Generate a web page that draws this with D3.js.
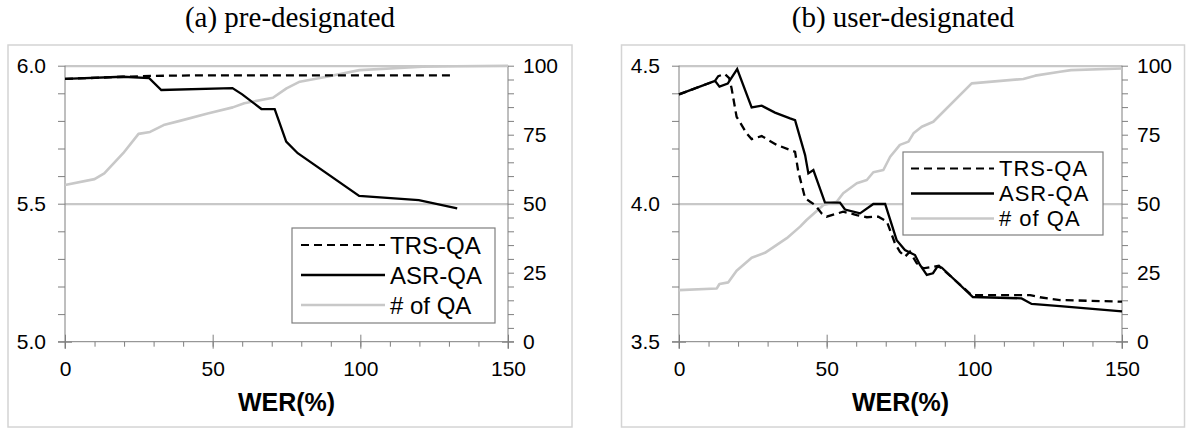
<!DOCTYPE html>
<html>
<head>
<meta charset="utf-8">
<script src="https://cdnjs.cloudflare.com/ajax/libs/d3/7.8.5/d3.min.js"></script>
<style>
  body { margin: 0; background: #fff; }
  svg text { font-family: "Liberation Sans", Arial, sans-serif; fill: #000; }
  .title { font-family: "Liberation Serif", "Times New Roman", serif; }
</style>
</head>
<body>
<script>
// panel (a) pre-designated
const trsA_x = [0, 20, 29, 45, 60, 100, 132];
const trsA_y = [5.952, 5.960, 5.963, 5.965, 5.965, 5.965, 5.965];
const asrA_x = [0, 19.6, 28.5, 32.6, 56.7, 60, 66.5, 71, 74.9, 78.8, 99.6, 119.8, 132.8];
const asrA_y = [5.952, 5.960, 5.955, 5.912, 5.919, 5.896, 5.843, 5.843, 5.725, 5.683, 5.528, 5.513, 5.483];
const qaA_x = [0, 10, 13.3, 19.7, 24.9, 28.8, 33.4, 39.2, 48.3, 56.8, 60.7, 70.4, 75, 79.5, 88.6, 99.7, 121, 132, 150];
const qaA_y = [56.8, 58.9, 61, 68.3, 75.3, 76, 78.5, 80.1, 82.7, 84.9, 86.4, 88.4, 91.8, 94.2, 96, 98.4, 99.6, 99.8, 100];

// panel (b) user-designated
const trsB_x = [0, 12.2, 13.3, 15.5, 17, 17.8, 19.5, 22.9, 24.6, 28, 33.1, 39.3, 40.4, 42.7, 44.4, 46.1, 48.3, 50, 55.6, 60.2, 63.6, 67.5, 70.4, 73.1, 74.8, 76.5, 78.2, 80.5, 82.7, 85, 88, 99.1, 118.9, 122.2, 129, 150];
const trsB_y = [4.396, 4.445, 4.462, 4.470, 4.455, 4.418, 4.315, 4.255, 4.234, 4.245, 4.213, 4.188, 4.116, 4.02, 4.007, 3.995, 3.965, 3.953, 3.971, 3.959, 3.951, 3.953, 3.935, 3.857, 3.826, 3.808, 3.826, 3.784, 3.766, 3.770, 3.775, 3.669, 3.669, 3.661, 3.651, 3.645];
const asrB_x = [0, 12.2, 13.7, 16.5, 19.7, 24.6, 28, 32.5, 37.6, 39.3, 42.7, 43.8, 45.5, 49.4, 54.5, 56.2, 61.3, 65.8, 69.8, 73.7, 76.5, 79.9, 81.6, 83.9, 86, 87.5, 89, 99.5, 116, 119.4, 129, 150];
const asrB_y = [4.396, 4.445, 4.424, 4.435, 4.488, 4.349, 4.355, 4.330, 4.309, 4.303, 4.176, 4.110, 4.122, 4.005, 4.004, 3.979, 3.965, 3.999, 3.999, 3.868, 3.832, 3.814, 3.778, 3.742, 3.748, 3.772, 3.768, 3.662, 3.657, 3.637, 3.629, 3.610];
const qaB_x = [0, 12.8, 13.7, 16.7, 19.5, 24.6, 29.1, 36.5, 41, 43.2, 48.9, 53.4, 55.6, 60.2, 63.6, 65.8, 69.2, 71.5, 74.8, 77.7, 79.4, 82.2, 86.1, 99.1, 116.6, 120.6, 129, 132.7, 150];
const qaB_y = [18.7, 19.3, 20.9, 21.5, 25.7, 30.4, 32.2, 37.5, 41.7, 44.1, 49.5, 50.7, 53.8, 57.4, 58.6, 61.4, 62.2, 67, 71.3, 72.5, 75.5, 77.9, 79.7, 93.6, 95.2, 96.4, 97.8, 98.4, 99];

const xTicks = [0, 50, 100, 150];
const qaTicks = [0, 25, 50, 75, 100];
const seriesNames = ["TRS-QA", "ASR-QA", "# of QA"];

const W = 1188, H = 429;
const svg = d3.select("body").append("svg").attr("width", W).attr("height", H);

const zip = (xs, ys) => xs.map((x, i) => [x, ys[i]]);
const axisColor = "#7f7f7f";
const gridColor = "#c8c8c8";

function drawPanel(p) {
  const g = svg.append("g");

  // outer frame
  g.append("rect")
    .attr("x", p.box[0]).attr("y", p.box[1])
    .attr("width", p.box[2]).attr("height", p.box[3])
    .attr("fill", "none").attr("stroke", "#d4d4d4").attr("stroke-width", 1.5);

  g.append("text")
    .attr("class", "title")
    .attr("x", p.box[0] + p.box[2] / 2)
    .attr("y", 27)
    .attr("text-anchor", "middle")
    .style("font-size", "29px")
    .text(p.title);

  const x = d3.scaleLinear().domain([0, 150]).range([p.left, p.right]);
  const y = d3.scaleLinear().domain(p.yDomain).range([p.bottom, p.top]);
  const y2 = d3.scaleLinear().domain([0, 100]).range([p.bottom, p.top]);
  const w = p.right - p.left;

  const axes = g.append("g");
  const minorY = d3.range(p.yDomain[0], p.yDomain[1] + 0.001, 0.1);
  const minorQ = d3.range(0, 101, 5);
  const minorX = d3.range(0, 151, 10);

  // left axis
  axes.append("g")
    .attr("transform", `translate(${p.left},0)`)
    .call(d3.axisLeft(y).tickValues(minorY).tickSize(7).tickFormat(""))
    .call(a => a.select(".domain").remove());
  axes.append("g")
    .attr("transform", `translate(${p.left},0)`)
    .call(d3.axisLeft(y).tickValues(p.yMajor).tickSizeInner(-7).tickSizeOuter(0).tickFormat(""))
    .call(a => a.select(".domain").remove());
  axes.append("g")
    .attr("transform", `translate(${p.left},0)`)
    .call(d3.axisLeft(y).tickValues(p.yMajor).tickSize(0).tickPadding(p.yLabelPad).tickFormat(d3.format(".1f")))
    .call(a => a.select(".domain").remove())
    .selectAll("text").style("font-size", p.tickFont + "px");

  // right axis
  axes.append("g")
    .attr("transform", `translate(${p.right},0)`)
    .call(d3.axisRight(y2).tickValues(minorQ).tickSize(6).tickFormat(""))
    .call(a => a.select(".domain").remove());
  axes.append("g")
    .attr("transform", `translate(${p.right},0)`)
    .call(d3.axisRight(y2).tickValues([0, 50, 100]).tickSize(-6).tickFormat(""))
    .call(a => a.select(".domain").remove());
  axes.append("g")
    .attr("transform", `translate(${p.right},0)`)
    .call(d3.axisRight(y2).tickValues(qaTicks).tickSize(0).tickPadding(15))
    .call(a => a.select(".domain").remove())
    .selectAll("text").style("font-size", p.tickFont + "px");

  // bottom axis
  axes.append("g")
    .attr("transform", `translate(0,${p.bottom})`)
    .call(d3.axisBottom(x).tickValues(minorX).tickSize(5).tickFormat(""))
    .call(a => a.select(".domain").remove());
  axes.append("g")
    .attr("transform", `translate(0,${p.bottom})`)
    .call(d3.axisBottom(x).tickValues(xTicks).tickSizeInner(-7).tickSizeOuter(0).tickFormat(""))
    .call(a => a.select(".domain").remove());
  axes.append("g")
    .attr("transform", `translate(0,${p.bottom})`)
    .call(d3.axisBottom(x).tickValues(xTicks).tickSize(7).tickPadding(12))
    .call(a => a.select(".domain").remove())
    .selectAll("text").style("font-size", p.tickFont + "px");

  axes.selectAll(".tick line").attr("stroke", axisColor);

  // horizontal gridlines at the major ticks (drawn after the tick colouring)
  g.append("g")
    .attr("transform", `translate(${p.left},0)`)
    .call(d3.axisRight(y).tickValues(p.yMajor.slice(1)).tickSize(w).tickFormat(""))
    .call(a => a.select(".domain").remove())
    .selectAll("line").attr("stroke", gridColor).attr("stroke-width", 2.2);

  // axis lines
  g.append("line").attr("x1", p.left).attr("x2", p.left).attr("y1", p.top).attr("y2", p.bottom + 7)
    .attr("stroke", axisColor);
  g.append("line").attr("x1", p.right).attr("x2", p.right).attr("y1", p.top).attr("y2", p.bottom + 7)
    .attr("stroke", axisColor);
  g.append("line").attr("x1", p.left - 7).attr("x2", p.right + 6).attr("y1", p.bottom).attr("y2", p.bottom)
    .attr("stroke", axisColor);

  g.append("text")
    .attr("x", (p.left + p.right) / 2)
    .attr("y", 411)
    .attr("text-anchor", "middle")
    .style("font-size", "25px")
    .style("font-weight", "bold")
    .text("WER(%)");

  // data lines
  const lineY = d3.line().x(d => x(d[0])).y(d => y(d[1]));
  const lineQ = d3.line().x(d => x(d[0])).y(d => y2(d[1]));

  g.append("path").datum(zip(p.qa[0], p.qa[1])).attr("d", lineQ)
    .attr("fill", "none").attr("stroke", gridColor).attr("stroke-width", 2.6).attr("stroke-linejoin", "round");
  g.append("path").datum(zip(p.trs[0], p.trs[1])).attr("d", lineY)
    .attr("fill", "none").attr("stroke", "#000").attr("stroke-width", 2.3).attr("stroke-dasharray", "8,5");
  g.append("path").datum(zip(p.asr[0], p.asr[1])).attr("d", lineY)
    .attr("fill", "none").attr("stroke", "#000").attr("stroke-width", 2.3);

  // legend
  const L = p.legend;
  g.append("rect")
    .attr("x", L.x).attr("y", L.y).attr("width", L.w).attr("height", L.h)
    .attr("fill", "#fff").attr("stroke", axisColor).attr("stroke-width", 1.2);
  const styles = [
    { stroke: "#000", dash: "8,5", width: 2 },
    { stroke: "#000", dash: null, width: 2.3 },
    { stroke: gridColor, dash: null, width: 2.6 }
  ];
  seriesNames.forEach((name, i) => {
    const ly = L.y0 + i * L.step;
    g.append("line")
      .attr("x1", L.lx1).attr("x2", L.lx2).attr("y1", ly).attr("y2", ly)
      .attr("stroke", styles[i].stroke).attr("stroke-width", styles[i].width)
      .attr("stroke-dasharray", styles[i].dash);
    g.append("text")
      .attr("x", L.lx2 + 5).attr("y", ly)
      .attr("dy", "0.36em")
      .style("font-size", L.font + "px")
      .style("letter-spacing", L.spacing + "px")
      .text(name);
  });
}

drawPanel({
  title: "(a) pre-designated",
  box: [8, 45, 564, 382],
  left: 65, right: 508, top: 65.7, bottom: 341.7,
  yDomain: [5.0, 6.0], yMajor: [5.0, 5.5, 6.0], yLabelPad: 19, tickFont: 21,
  trs: [trsA_x, trsA_y], asr: [asrA_x, asrA_y], qa: [qaA_x, qaA_y],
  legend: { x: 292, y: 228, w: 203, h: 95, lx1: 301, lx2: 385, y0: 245, step: 30, font: 24, spacing: 0 }
});

drawPanel({
  title: "(b) user-designated",
  box: [621.5, 45, 563, 382],
  left: 679, right: 1122, top: 65.7, bottom: 341.7,
  yDomain: [3.5, 4.5], yMajor: [3.5, 4.0, 4.5], yLabelPad: 19, tickFont: 21,
  trs: [trsB_x, trsB_y], asr: [asrB_x, asrB_y], qa: [qaB_x, qaB_y],
  legend: { x: 903, y: 152, w: 200, h: 83, lx1: 911, lx2: 994, y0: 168.5, step: 25, font: 22, spacing: 1 }
});
</script>
</body>
</html>
